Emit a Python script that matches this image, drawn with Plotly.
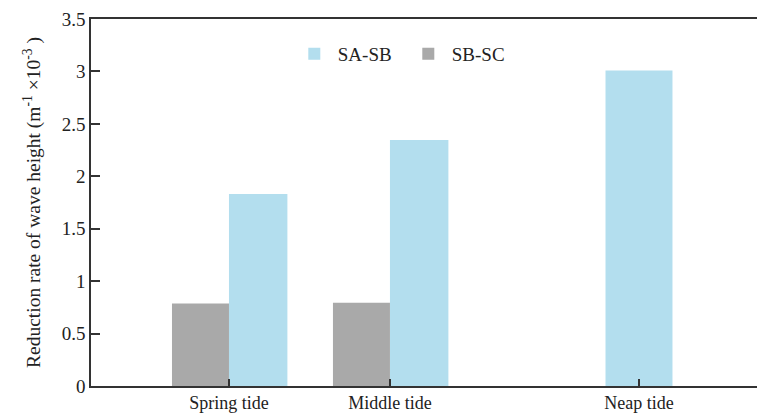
import plotly.graph_objects as go

categories = ["Spring tide", "Middle tide", "Neap tide"]
sa_sb = [1.83, 2.345, 3.01]
sb_sc = [0.787, 0.795, None]
y_ticks = [0, 0.5, 1, 1.5, 2, 2.5, 3, 3.5]
y_tick_labels = ["0", "0.5", "1", "1.5", "2", "2.5", "3", "3.5"]

# layout positions of category centers along the x axis (non-uniform spacing as in the reference)
cat_pos = [1.0, 2.0, 3.547]

blue = "#B3DEEE"
gray = "#A9A9A9"
font_family = "Liberation Serif, Times New Roman, serif"

fig = go.Figure()
fig.add_trace(go.Bar(
    x=cat_pos, y=sa_sb, name="SA-SB",
    marker=dict(color=blue, line=dict(width=0)),
    width=[0.363, 0.363, 0.416], offset=[0, 0, -0.208],
))
fig.add_trace(go.Bar(
    x=cat_pos, y=sb_sc, name="SB-SC",
    marker=dict(color=gray, line=dict(width=0)),
    width=[0.354, 0.354, 0.354], offset=[-0.354, -0.354, -0.354],
))

fig.update_layout(
    width=757, height=414,
    margin=dict(l=91, r=0, t=19, b=28),
    paper_bgcolor="white", plot_bgcolor="white",
    barmode="overlay",
    font=dict(family=font_family, size=18, color="#222"),
    showlegend=True,
    legend=dict(
        orientation="h", x=0.30, y=0.905, xanchor="left", yanchor="middle",
        font=dict(size=19, family=font_family), bgcolor="rgba(0,0,0,0)",
        itemwidth=37, entrywidth=62, entrywidthmode="pixels", tracegroupgap=0,
    ),
    xaxis=dict(
        range=[0.143, 4.28], tickvals=cat_pos, ticktext=categories,
        showgrid=False, zeroline=False, showline=True, linecolor="#333", linewidth=1.5,
        mirror=True, ticks="inside", ticklen=7, tickwidth=1.5, tickcolor="#333",
        tickfont=dict(size=18),
    ),
    yaxis=dict(
        range=[0, 3.5], tickvals=y_ticks, ticktext=y_tick_labels,
        showgrid=False, zeroline=False, showline=True, linecolor="#333", linewidth=1.5,
        ticks="inside", ticklen=9, tickwidth=1.5, tickcolor="#333",
        tickfont=dict(size=19),
        title=dict(text="Reduction rate of wave height (m<sup>-1</sup> ×10<sup>-3</sup> )",
                   font=dict(size=19.5), standoff=16),
    ),
)

fig.write_html(
    "out.html",
    config={"displayModeBar": False},
    post_script=(
        "document.documentElement.style.margin='0';document.documentElement.style.overflow='hidden';"
        "document.body.style.margin='0';document.body.style.padding='0';document.body.style.overflow='hidden';"
    ),
)
